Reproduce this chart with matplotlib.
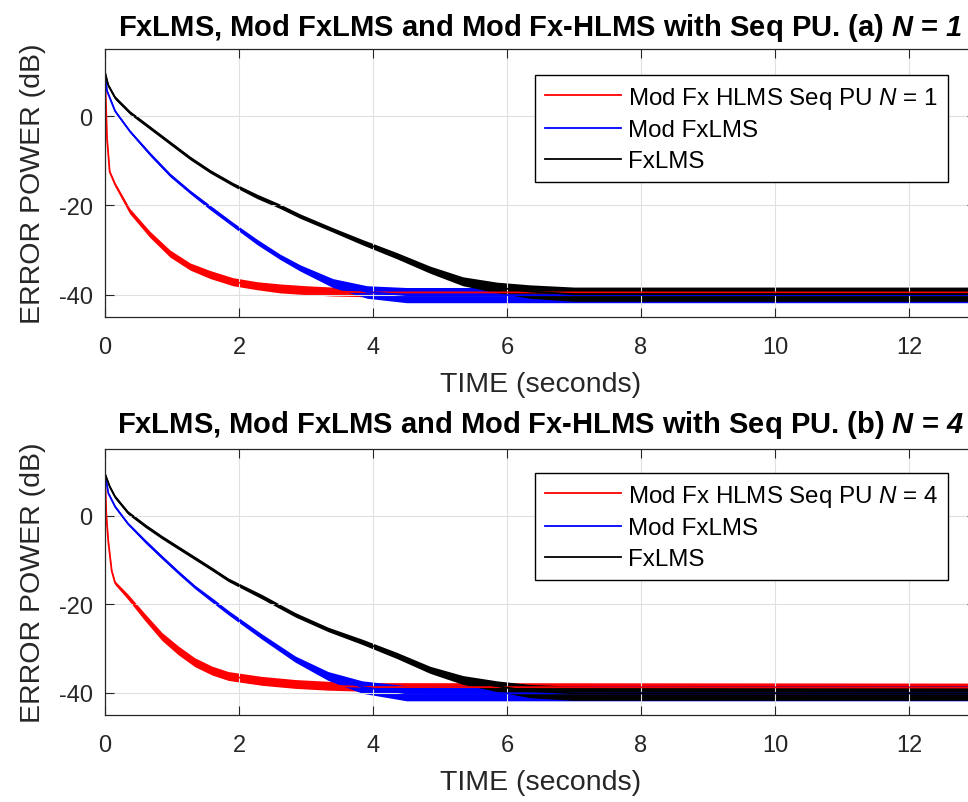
import numpy as np
import matplotlib.pyplot as plt

plt.rcParams['font.family'] = 'Liberation Sans'
plt.rcParams['axes.unicode_minus'] = False
plt.rcParams['mathtext.fontset'] = 'custom'
plt.rcParams['mathtext.rm'] = 'Liberation Sans'
plt.rcParams['mathtext.it'] = 'Liberation Sans:italic'
plt.rcParams['mathtext.bf'] = 'Liberation Sans:bold'
plt.rcParams['mathtext.bfit'] = 'Liberation Sans:bold:italic'

# (a) N = 1 (dB), band = half width of the noise
t_red_a = [0, 0.03, 0.07, 0.15, 0.37, 0.67, 0.97, 1.27, 1.57, 1.91, 2.27, 2.61, 3.0, 3.4, 4.0, 13]
red_a = [9.7, -5.0, -12.5, -15.3, -21.3, -26.5, -30.8, -33.7, -35.5, -37.1, -38.0, -38.6, -39.0, -39.3, -39.5, -39.5]
red_a_band = [0.2, 0.3, 0.3, 0.4, 0.6, 0.7, 0.8, 0.8, 0.9, 0.9, 0.9, 1.0, 1.0, 1.0, 1.0, 1.0]

t_blue_a = [0, 0.03, 0.15, 0.37, 0.67, 0.97, 1.27, 1.57, 1.91, 2.27, 2.61, 2.91, 3.4, 3.91, 4.5, 13]
blue_a = [9.7, 5.6, 1.1, -3.4, -8.5, -13.2, -17.0, -20.5, -24.3, -28.2, -31.5, -34.0, -37.4, -39.4, -40.1, -40.1]
blue_a_band = [0.2, 0.3, 0.3, 0.3, 0.4, 0.4, 0.4, 0.5, 0.5, 0.6, 0.6, 0.7, 1.0, 1.4, 1.7, 1.7]

t_black_a = [0, 0.05, 0.15, 0.37, 0.67, 0.97, 1.27, 1.57, 1.91, 2.27, 2.61, 2.91, 3.4, 3.85,
             4.36, 4.85, 5.34, 5.85, 6.34, 7.0, 13]
black_a = [9.8, 6.8, 4.1, 0.8, -2.6, -6.0, -9.4, -12.4, -15.3, -18.0, -20.2, -22.4, -25.5, -28.3,
           -31.3, -34.4, -37.0, -38.4, -39.3, -39.9, -39.9]
black_a_band = [0.3, 0.4, 0.4, 0.4, 0.4, 0.4, 0.4, 0.4, 0.4, 0.5, 0.5, 0.5, 0.5, 0.6,
                0.7, 0.8, 1.0, 1.2, 1.5, 1.6, 1.6]

# (b) N = 4
t_red_b = [0, 0.02, 0.05, 0.1, 0.15, 0.34, 0.6, 0.85, 1.1, 1.34, 1.6, 1.84, 2.34, 2.84, 3.33, 4.0, 13]
red_b = [9.4, 0.0, -6.0, -12.5, -15.2, -18.3, -23.0, -27.3, -30.5, -33.1, -35.0, -36.2, -37.3, -38.0, -38.4, -38.7, -38.8]
red_b_band = [0.2, 0.3, 0.3, 0.3, 0.4, 0.6, 0.8, 0.9, 1.0, 1.0, 1.0, 1.0, 1.0, 1.0, 1.0, 1.0, 1.0]

t_blue_b = [0, 0.05, 0.15, 0.34, 0.6, 0.85, 1.1, 1.34, 1.6, 1.84, 2.34, 2.84, 3.33, 3.84, 4.5, 13]
blue_b = [9.4, 5.0, 2.0, -1.8, -5.8, -9.4, -12.9, -16.1, -19.1, -21.9, -27.3, -32.4, -36.2, -38.7, -40.1, -40.1]
blue_b_band = [0.2, 0.3, 0.3, 0.3, 0.4, 0.4, 0.4, 0.4, 0.5, 0.5, 0.6, 0.7, 1.0, 1.4, 1.7, 1.7]

t_black_b = [0, 0.07, 0.15, 0.34, 0.6, 0.85, 1.1, 1.34, 1.6, 1.84, 2.34, 2.84, 3.33, 3.84,
             4.36, 4.85, 5.34, 5.85, 6.34, 7.0, 13]
black_b = [9.4, 6.5, 4.2, 0.7, -2.3, -4.9, -7.3, -9.6, -12.1, -14.5, -18.3, -22.4, -25.7, -28.5,
           -31.6, -34.8, -37.1, -38.5, -39.6, -40.1, -40.1]
black_b_band = [0.3, 0.4, 0.4, 0.4, 0.4, 0.4, 0.4, 0.4, 0.4, 0.4, 0.5, 0.5, 0.5, 0.6,
                0.7, 0.8, 1.0, 1.2, 1.5, 1.6, 1.6]

x_ticks = [0, 2, 4, 6, 8, 10, 12]
y_ticks = [-40, -20, 0]

title_text = 'FxLMS, Mod FxLMS and Mod Fx-HLMS with Seq PU. ({}) $\\mathbfit{{N}}$ = $\\mathbfit{{{}}}$'
red_label = 'Mod Fx HLMS Seq PU $\\mathit{{N}}$ = $\\mathit{{{}}}$'


def draw_curve(ax, t, mid, band, color, label):
    lo = np.array(mid) - np.array(band)
    hi = np.array(mid) + np.array(band)
    ax.fill_between(t, lo, hi, color=color, lw=0)
    ax.plot(t, mid, color=color, lw=1.3, label=label)


fig = plt.figure(figsize=(9.68, 8.03), dpi=100)
ax_a = fig.add_axes([105/968, 1-318/803, 871/968, 268/803])
ax_b = fig.add_axes([105/968, 1-716/803, 871/968, 266/803])

panels = [
    (ax_a, 'a', 1, [(t_red_a, red_a, red_a_band), (t_blue_a, blue_a, blue_a_band), (t_black_a, black_a, black_a_band)], 76, 10),
    (ax_b, 'b', 4, [(t_red_b, red_b, red_b_band), (t_blue_b, blue_b, blue_b_band), (t_black_b, black_b, black_b_band)], 474, 12),
]

for ax, tag, n, curves, leg_top, tpad in panels:
    colors = ['#ff0000', '#0000ff', 'black']
    labels = [red_label.format(n), 'Mod FxLMS', 'FxLMS']
    for (t, mid, band), c, lab in zip(curves, colors, labels):
        draw_curve(ax, t, mid, band, c, lab)

    ax.set_xlim(0, 13)
    ax.set_ylim(-45, 15)
    ax.set_xticks(x_ticks)
    ax.set_yticks(y_ticks)
    ax.grid(True, color='#e0e0e0', linewidth=0.8)
    ax.tick_params(direction='in', length=6.5, width=0.8, top=True, right=True, labelsize=17, colors='#262626')
    ax.tick_params(axis='x', pad=14)
    ax.tick_params(axis='y', pad=9)
    for s in ax.spines.values():
        s.set_color('#262626')
        s.set_linewidth(0.9)
    ax.set_xlabel('TIME (seconds)', fontsize=20.5, color='#262626', labelpad=9)
    ax.set_ylabel('ERROR POWER (dB)', fontsize=20.5, color='#262626', labelpad=9)
    ax.set_title(title_text.format(tag, n), fontsize=21, fontweight='bold', pad=tpad)

    leg = ax.legend(loc='upper left', bbox_to_anchor=(535/968, 1-leg_top/803), bbox_transform=fig.transFigure,
                    fontsize=17.4, fancybox=False, edgecolor='black', framealpha=1, handlelength=3.15,
                    handletextpad=0.3, borderpad=0.4, labelspacing=0.36, borderaxespad=0)
    leg.get_frame().set_linewidth(1.0)

fig.savefig('out.png', dpi=100)
